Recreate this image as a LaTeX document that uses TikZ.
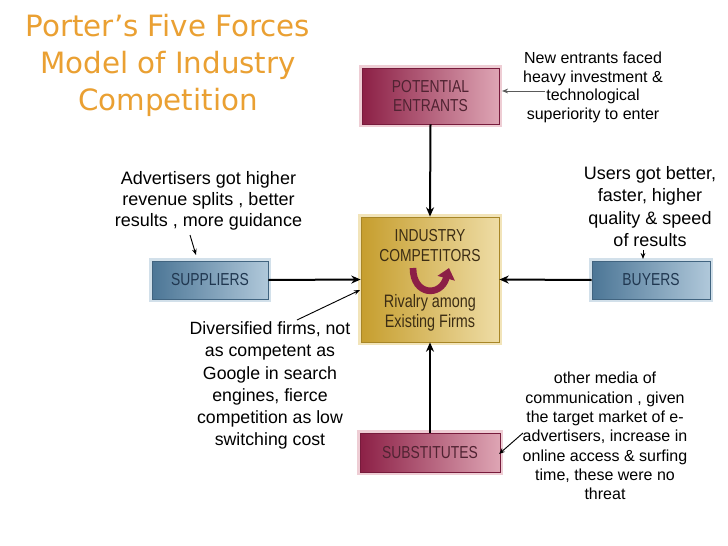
\documentclass[tikz,border=0pt]{standalone}
\usepackage{fontspec}
\setmainfont{Liberation Sans}
\newfontfamily\titlefont{DejaVu Sans}
\newfontfamily\condfont[FakeStretch=0.8]{Liberation Sans}
\usetikzlibrary{arrows.meta}
\definecolor{titleorange}{RGB}{234,160,50}
\definecolor{crimL}{RGB}{140,32,70}
\definecolor{crimR}{RGB}{222,165,180}
\definecolor{crimT}{RGB}{80,35,50}
\definecolor{crimF}{RGB}{238,205,212}
\definecolor{goldL}{RGB}{198,158,46}
\definecolor{goldR}{RGB}{238,220,165}
\definecolor{goldT}{RGB}{60,45,20}
\definecolor{goldF}{RGB}{242,228,185}
\definecolor{blueL}{RGB}{76,118,150}
\definecolor{blueR}{RGB}{176,200,218}
\definecolor{blueT}{RGB}{32,55,80}
\definecolor{blueF}{RGB}{210,224,234}
\definecolor{rivalry}{RGB}{140,30,70}
\definecolor{notegray}{RGB}{90,90,90}
\tikzset{
  forcebox/.style={inner sep=0pt, align=center, font=\condfont\fontsize{13}{14.25}\selectfont},
  crimbox/.style={forcebox, left color=crimL, right color=crimR, draw=crimL!85!black, line width=0.6pt, text=crimT, preaction={draw=crimF, line width=4pt}},
  goldbox/.style={forcebox, left color=goldL, right color=goldR, draw=goldL!85!black, line width=0.6pt, text=goldT, preaction={draw=goldF, line width=4pt}},
  bluebox/.style={forcebox, left color=blueL, right color=blueR, draw=blueL!85!black, line width=0.6pt, text=blueT, preaction={draw=blueF, line width=4pt}},
  force/.style={draw=black, line width=1.5pt, -{Stealth[length=7pt,width=6pt]}},
  note/.style={align=center, inner sep=0pt, text=black},
  notearrow/.style={draw=black, line width=0.7pt, -{Stealth[length=4.5pt,width=3.5pt]}},
}
\begin{document}
\begin{tikzpicture}[x=0.75pt,y=-0.75pt]
\fill[white] (0,0) rectangle (728,546);
\useasboundingbox (0,0) rectangle (728,546);

% title
\node[align=center, text=titleorange, font=\titlefont\fontsize{22}{27.75}\selectfont, inner sep=0pt] (title) at (168,65)
  {Porter’s Five Forces\\Model of Industry\\Competition};

% boxes
\node[crimbox, minimum width=102.75pt, minimum height=42pt] (pe) at (430.5,96) {POTENTIAL\\ENTRANTS};
\node[goldbox, minimum width=103.5pt, minimum height=93.75pt] (ic) at (430,279.5) {};
\node[forcebox, text=goldT] (ictitle) at (430,246) {INDUSTRY\\[0.75pt]COMPETITORS};
\node[forcebox, text=goldT, font=\condfont\fontsize{13.5}{15}\selectfont] (icriv) at (430,313) {Rivalry among\\Existing Firms};
\node[bluebox, minimum width=87pt, minimum height=28.5pt] (sup) at (210,280) {SUPPLIERS};
\node[bluebox, minimum width=88.5pt, minimum height=28.5pt] (buy) at (651,280) {BUYERS};
\node[crimbox, minimum width=105pt, minimum height=29.25pt] (sub) at (430,452.5) {SUBSTITUTES};

% rivalry arrow
\coordinate (rivA) at (413,268);
\coordinate (rivB) at (449,268);
\draw[rivalry, line width=5pt, -{Triangle[length=8pt,width=13pt]}] (rivA) .. controls (413,296) and (441,297) .. (rivB);

% forces
\draw[force] (pe.south) -- (ic.north);
\draw[force] (sup.east) -- (ic.west);
\draw[force] (buy.west) -- (ic.east);
\draw[force] (sub.north) -- (ic.south);

% notes
\node[note, font=\fontsize{12}{13.9}\selectfont] (ne) at (593,87.5)
  {New entrants faced\\heavy investment \&\\technological\\superiority to enter};
\node[note, font=\fontsize{13.5}{15.75}\selectfont] (adv) at (208.5,201)
  {Advertisers got higher\\revenue splits , better\\results , more guidance};
\node[note, font=\fontsize{13.5}{16.7}\selectfont] (usr) at (650,206.5)
  {Users got better,\\faster, higher\\quality \& speed\\of results};
\node[note, font=\fontsize{13.3}{16.6}\selectfont] (div) at (270,385.5)
  {Diversified firms, not\\as competent as\\Google in search\\engines, fierce\\competition as low\\switching cost};
\node[note, font=\fontsize{12}{14.5}\selectfont] (oth) at (605,436)
  {other media of\\communication , given\\the target market of e-\\advertisers, increase in\\online access \& surfing\\time, these were no\\threat};

% note arrows
\coordinate (neS) at (545,91);
\coordinate (neE) at (502,91);
\draw[notearrow, draw=notegray] (neS) -- (neE);
\coordinate (advS) at (190,235);
\coordinate (advE) at (196,255);
\draw[notearrow] (advS) -- (advE);
\coordinate (usrS) at (643,250);
\coordinate (usrE) at (643,259);
\draw[notearrow] (usrS) -- (usrE);
\coordinate (divS) at (297,320);
\coordinate (divE) at (360,290);
\draw[notearrow] (divS) -- (divE);
\coordinate (othS) at (523,433);
\coordinate (othE) at (499,454);
\draw[notearrow] (othS) -- (othE);
\end{tikzpicture}
\end{document}
